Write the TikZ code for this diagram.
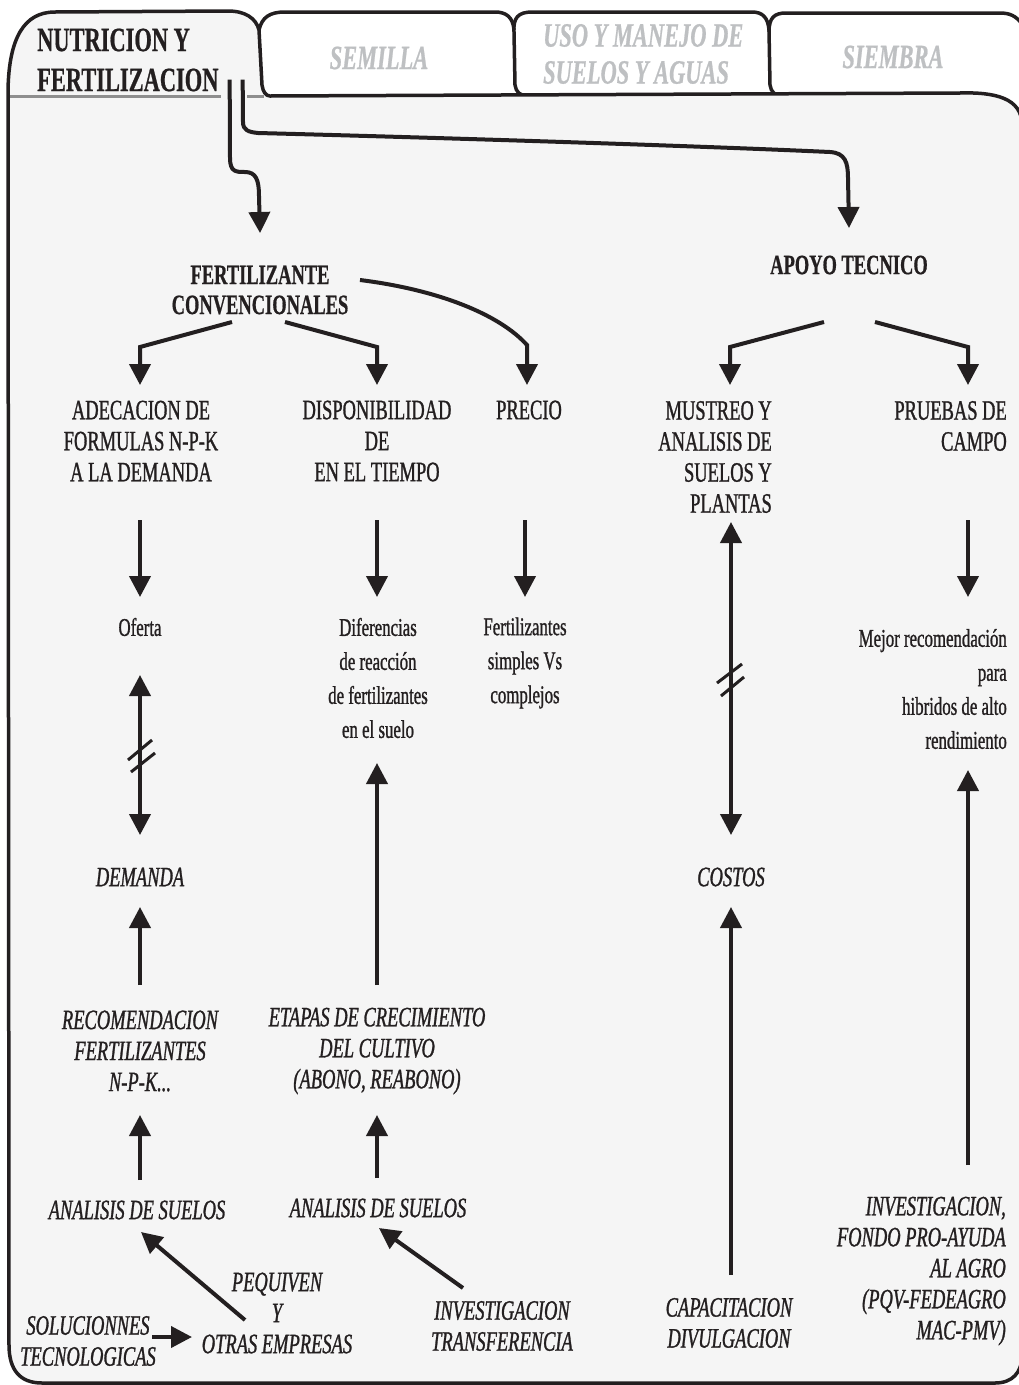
\documentclass[tikz,border=0pt]{standalone}
\usepackage{fontspec}
\setmainfont[FakeStretch=0.66,
  UprightFeatures={FakeBold=1.0},ItalicFeatures={FakeBold=1.0},
  BoldFeatures={FakeBold=0.6},BoldItalicFeatures={FakeBold=0.6}]{Liberation Serif}
\usetikzlibrary{arrows.meta}
\definecolor{ink}{HTML}{231F20}
\definecolor{panel}{HTML}{F5F5F5}
\definecolor{tabtxt}{HTML}{BEC0C2}
\definecolor{rulegray}{HTML}{8E8E8E}
\begin{document}
\begin{tikzpicture}[x=1pt,y=-1pt,
  conn/.style={draw=ink,line width=4pt,-{Triangle[length=21pt,width=21pt]}},
  both/.style={draw=ink,line width=4pt,{Triangle[length=21pt,width=21pt]}-{Triangle[length=21pt,width=21pt]}},
  brk/.style={draw=ink,line width=3pt},
  frame/.style={draw=ink,line width=3.5pt,line join=round},
  txt/.style={inner sep=0pt,text=ink,font=\fontsize{28}{31}\selectfont,align=center},
  itx/.style={txt,font=\fontsize{28}{31}\selectfont\itshape},
  small/.style={txt,font=\fontsize{25.5}{34}\selectfont},
  head/.style={txt,font=\fontsize{28}{30}\selectfont\bfseries},
  tablbl/.style={txt,text=tabtxt,font=\fontsize{34}{37}\selectfont\bfseries\itshape},
]
\useasboundingbox (0,0) rectangle (1018,1385);

% inactive tabs
\fill[white] (255,100) -- (259,30) .. controls (262,17) and (270,12) .. (285,12) -- (495,12) .. controls (506,12) and (513,17) .. (514,30) -- (516,100) -- cycle;
\fill[white] (515,100) -- (514,32) .. controls (513,18) and (518,12) .. (532,12) -- (752,12) .. controls (763,12) and (768,18) .. (769,30) -- (771,100) -- cycle;
\fill[white] (770,100) -- (769,32) .. controls (769,18) and (774,13) .. (786,13) -- (1000,13) .. controls (1010,13) and (1016,16) .. (1022,22) -- (1022,100) -- cycle;
\draw[frame] (259,30) .. controls (262,17) and (270,12) .. (285,12) -- (495,12) .. controls (506,12) and (513,17) .. (514,30);
\draw[frame] (528,96) .. controls (520,96) and (516,92) .. (515,85) -- (514,32) .. controls (513,18) and (518,12) .. (532,12) -- (752,12) .. controls (763,12) and (768,18) .. (769,30) -- (770,85) .. controls (771,92) and (775,96) .. (783,96);
\draw[frame] (769,32) .. controls (769,18) and (774,13) .. (786,13) -- (1000,13) .. controls (1010,13) and (1016,16) .. (1022,24);

% active tab and main panel
\filldraw[frame,fill=panel] (270,96) -- (960,93) .. controls (995,92) and (1022,98) .. (1022,125)
  -- (1022,1355) .. controls (1022,1373) and (1012,1383) .. (995,1383)
  -- (42,1383) .. controls (20,1383) and (9,1370) .. (9,1345)
  -- (8,90) .. controls (9,38) and (24,12) .. (55,12)
  -- (228,11) .. controls (245,11) and (256,18) .. (259,30)
  -- (262,85) .. controls (263,92) and (266,96) .. (270,96) -- cycle;
\draw[rulegray,line width=3pt] (10,96) -- (221,96) (247,96) -- (264,96);

% tab labels
\node[txt,font=\fontsize{34}{40}\selectfont\bfseries,align=left,anchor=west] (nutri) at (37,60) {NUTRICION Y\\FERTILIZACION};
\node[tablbl] (semilla) at (379,58) {SEMILLA};
\node[tablbl,align=left,anchor=west] (uso) at (543,54) {USO Y MANEJO DE\\SUELOS Y AGUAS};
\node[tablbl] (siembra) at (893,57) {SIEMBRA};

% headings
\node[head] (fert) at (260,290) {FERTILIZANTE\\CONVENCIONALES};
\node[head] (apoyo) at (849,265) {APOYO TECNICO};

% first level
\node[txt] (adec) at (141,441) {ADECACION DE\\FORMULAS N-P-K\\A LA DEMANDA};
\node[txt] (disp) at (377,441) {DISPONIBILIDAD\\DE\\EN EL TIEMPO};
\node[txt] (precio) at (529,410) {PRECIO};
\node[txt,align=right,anchor=east] (mustreo) at (772,457) {MUSTREO Y\\ANALISIS DE\\SUELOS Y\\PLANTAS};
\node[txt,align=right,anchor=east] (pruebas) at (1007,426) {PRUEBAS DE\\CAMPO};

% second level
\node[small] (oferta) at (140,627) {Oferta};
\node[small] (dif) at (378,678) {Diferencias\\de reacción\\de fertilizantes\\en el suelo};
\node[small] (fsimp) at (525,663) {Fertilizantes\\simples Vs\\complejos};
\node[small,align=right,anchor=east] (mejor) at (1007,689) {Mejor recomendación\\para\\hibridos de alto\\rendimiento};

% lower blocks
\node[itx] (demanda) at (140,877) {DEMANDA};
\node[itx] (costos) at (731,877) {COSTOS};
\node[itx] (recom) at (140,1051) {RECOMENDACION\\FERTILIZANTES\\N-P-K...};
\node[itx] (etapas) at (377,1051) {ETAPAS DE CRECIMIENTO\\DEL CULTIVO\\(ABONO, REABONO)};
\node[itx] (anal1) at (137,1210) {ANALISIS DE SUELOS};
\node[itx] (anal2) at (378,1208) {ANALISIS DE SUELOS};
\node[itx] (pequiven) at (277,1313) {PEQUIVEN\\Y\\OTRAS EMPRESAS};
\node[itx] (soluc) at (88,1341) {SOLUCIONNES\\TECNOLOGICAS};
\node[itx] (invtr) at (502,1326) {INVESTIGACION\\TRANSFERENCIA};
\node[itx] (capac) at (729,1323) {CAPACITACION\\DIVULGACION};
\node[itx,align=right,anchor=east] (invest) at (1006,1271) {INVESTIGACION,\\FONDO PRO-AYUDA\\AL AGRO\\(PQV-FEDEAGRO\\MAC-PMV)};

% connectors leaving the tab
\coordinate (n1) at ([xshift=11pt,yshift=12pt]nutri.south east);
\coordinate (n2) at ([xshift=24pt,yshift=12pt]nutri.south east);
\draw[conn] (n1) -- (230,158) .. controls (230,172) and (236,172) .. (245,172)
  .. controls (256,172) and (259,180) .. (259,196) -- ([yshift=57pt]fert.center);
\draw[conn] (n2) -- (243,122) .. controls (243,130) and (248,132) .. (258,133)
  .. controls (450,138) and (700,146) .. (830,152)
  .. controls (845,153) and (848,162) .. (848,178) -- ([yshift=37pt]apoyo.center);

% branches
\draw[conn] ([xshift=-28pt,yshift=-32pt]fert.center) -- (140,347) -- ([xshift=-1pt,yshift=56pt]adec.center);
\draw[conn] ([xshift=25pt,yshift=-32pt]fert.center) -- (377,347) -- ([yshift=56pt]disp.center);
\draw[conn] ([xshift=100pt,yshift=10pt]fert.center) .. controls (440,290) and (500,315) .. (527,345) -- ([xshift=-2pt,yshift=25pt]precio.center);
\draw[conn] ([xshift=-25pt,yshift=-57pt]apoyo.center) -- (730,347) -- ([xshift=-42pt,yshift=72pt]mustreo.east);
\draw[conn] ([xshift=26pt,yshift=-57pt]apoyo.center) -- (968,347) -- ([xshift=-39pt,yshift=41pt]pruebas.east);

% vertical arrows
\draw[conn] ([xshift=-1pt,yshift=-79pt]adec.center) -- ([yshift=30pt]oferta.center);
\draw[conn] ([yshift=-79pt]disp.center) -- ([xshift=-1pt,yshift=81pt]dif.center);
\draw[conn] ([xshift=-4pt,yshift=-110pt]precio.center) -- ([yshift=66pt]fsimp.center);
\draw[conn] ([xshift=-39pt,yshift=-94pt]pruebas.east) -- ([xshift=-39pt,yshift=92pt]mejor.east);
\draw[both] ([yshift=-48pt]oferta.center) -- ([yshift=42pt]demanda.center);
\draw[both] ([xshift=-41pt,yshift=-65pt]mustreo.east) -- ([yshift=42pt]costos.center);
\draw[conn] ([yshift=66pt]etapas.center) -- ([xshift=-1pt,yshift=-85pt]dif.center);
\draw[conn] ([yshift=66pt]recom.center) -- ([yshift=-30pt]demanda.center);
\draw[conn] ([xshift=2pt,yshift=48pt]capac.center) -- ([yshift=-30pt]costos.center);
\draw[conn] ([xshift=-38pt,yshift=106pt]invest.east) -- ([xshift=-39pt,yshift=-81pt]mejor.east);
\draw[conn] ([xshift=3pt,yshift=30pt]anal1.center) -- ([yshift=-64pt]recom.center);
\draw[conn] ([xshift=-1pt,yshift=30pt]anal2.center) -- ([yshift=-64pt]etapas.center);

% diagonal and bottom arrows
\draw[conn] ([xshift=-32pt,yshift=-7pt]pequiven.center) -- ([xshift=4pt,yshift=-22pt]anal1.center);
\draw[conn] ([xshift=-39pt,yshift=38pt]invtr.center) -- ([xshift=1pt,yshift=-20pt]anal2.center);
\draw[conn] ([xshift=64pt,yshift=4pt]soluc.center) -- ([xshift=-85pt,yshift=-24pt]pequiven.center);

% break marks on the two-way links
\draw[brk] (128,760) -- (152,740) (131,772) -- (155,753);
\draw[brk] (717,683) -- (742,664) (721,696) -- (744,677);
\end{tikzpicture}
\end{document}
